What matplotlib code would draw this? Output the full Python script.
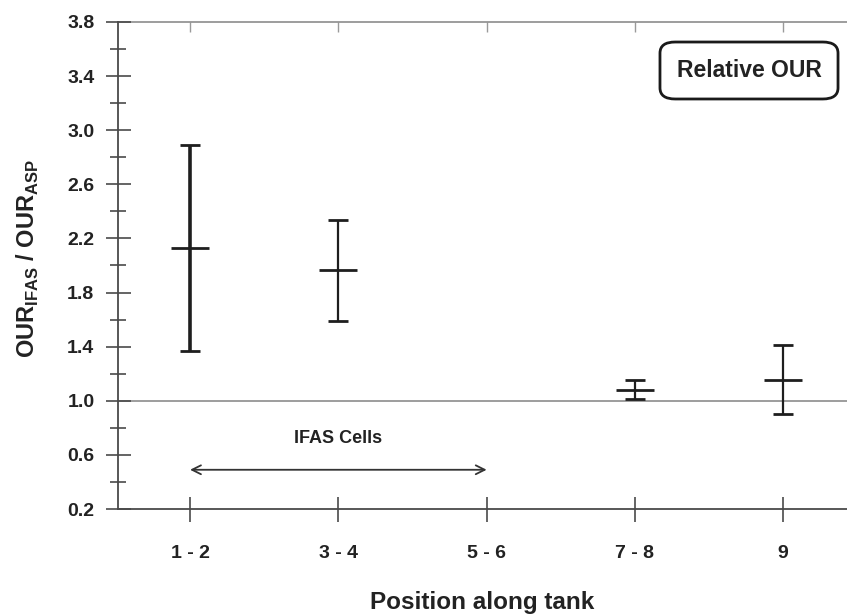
import matplotlib.pyplot as plt
from matplotlib.patches import FancyBboxPatch
from matplotlib.ticker import MultipleLocator
import numpy as np

plt.rcParams['font.family'] = ['Liberation Sans', 'DejaVu Sans']
plt.rcParams['font.weight'] = 'bold'
plt.rcParams['mathtext.fontset'] = 'custom'
plt.rcParams['mathtext.rm'] = 'Liberation Sans:bold'
plt.rcParams['mathtext.bf'] = 'Liberation Sans:bold'

# relative OUR per tank position (mean with lower / upper bounds)
positions = ['1 - 2', '3 - 4', '5 - 6', '7 - 8', '9']
pos_x = [1, 2, 4, 5]
our_mean = [2.13, 1.97, 1.08, 1.15]
our_low = [1.37, 1.59, 1.01, 0.90]
our_high = [2.89, 2.34, 1.15, 1.41]
bar_width = [2.6, 1.6, 1.6, 1.6]

ifas_span = (1, 3)

ink = '#1e1e1e'
axis_col = '#4a4a4a'

fig = plt.figure(figsize=(8.47, 6.16), dpi=100)
ax = fig.add_axes([0.1393, 0.1737, 0.8607, 0.7906])

ax.axhline(1.0, color='#8c8c8c', lw=1.2, zorder=1)

for x, m, lo, hi, w in zip(pos_x, our_mean, our_low, our_high, bar_width):
    ax.errorbar([x], [m], yerr=[[m - lo], [hi - m]], fmt='_', color=ink,
                ms=28, mew=2.0, elinewidth=w, capsize=7.5, capthick=2.0,
                zorder=3)

# IFAS cells marker
ax.annotate('', xy=(ifas_span[0], 0.49), xytext=(ifas_span[1], 0.49),
            arrowprops=dict(arrowstyle='<->', color='#333333', lw=1.3,
                            mutation_scale=16, shrinkA=0, shrinkB=0))
ax.text(np.mean(ifas_span), 0.72, 'IFAS Cells', ha='center', va='center',
        fontsize=13, fontweight='bold', color='#222222')

box = FancyBboxPatch((0.7792, 0.8393), 0.2102, 0.0925, transform=fig.transFigure,
                     boxstyle='round,pad=0,rounding_size=0.018',
                     fc='white', ec='#1a1a1a', lw=2.0, zorder=5)
fig.patches.append(box)
fig.text(0.8843, 0.8860, 'Relative OUR', ha='center', va='center',
         fontsize=16.5, fontweight='bold', color='#222222', zorder=6)

ax.set_xlim(0.514, 5.43)
ax.set_ylim(0.2, 3.8)
ax.set_xticks(range(1, len(positions) + 1))
ax.set_xticklabels(positions)
ax.yaxis.set_major_locator(MultipleLocator(0.4))
ax.yaxis.set_minor_locator(MultipleLocator(0.2))
ax.set_yticks(np.arange(0.2, 3.81, 0.4))
ax.set_yticklabels(['%.1f' % v for v in np.arange(0.2, 3.81, 0.4)])

ax.tick_params(axis='x', which='major', direction='inout', length=18,
               width=1.2, color=axis_col, pad=17, labelsize=14)
ax.tick_params(axis='y', which='major', direction='inout', length=18,
               width=1.2, color=axis_col, pad=8, labelsize=14)
ax.tick_params(axis='y', which='minor', direction='inout', length=11,
               width=1.2, color=axis_col)
for lab in ax.get_xticklabels() + ax.get_yticklabels():
    lab.set_fontweight('bold')
    lab.set_color('#222222')

for s in ['left', 'bottom']:
    ax.spines[s].set_color(axis_col)
    ax.spines[s].set_linewidth(1.3)
ax.spines['right'].set_visible(False)
ax.spines['top'].set_visible(False)

top = ax.secondary_xaxis('top')
top.set_xticks(range(1, len(positions) + 1))
top.set_xticklabels([])
top.tick_params(direction='in', length=7, width=1.0, color='#9a9a9a')
top.spines['top'].set_color('#8c8c8c')
top.spines['top'].set_linewidth(1.2)

ax.set_xlabel('Position along tank', fontsize=17.5, fontweight='bold',
              color='#222222', labelpad=21)
ax.set_ylabel(r'OUR$_{\mathbf{IFAS}}$ / OUR$_{\mathbf{ASP}}$', fontsize=17,
              fontweight='bold', color='#222222')
ax.yaxis.set_label_coords(-0.105, 0.515)

fig.savefig('out.png', dpi=100)
